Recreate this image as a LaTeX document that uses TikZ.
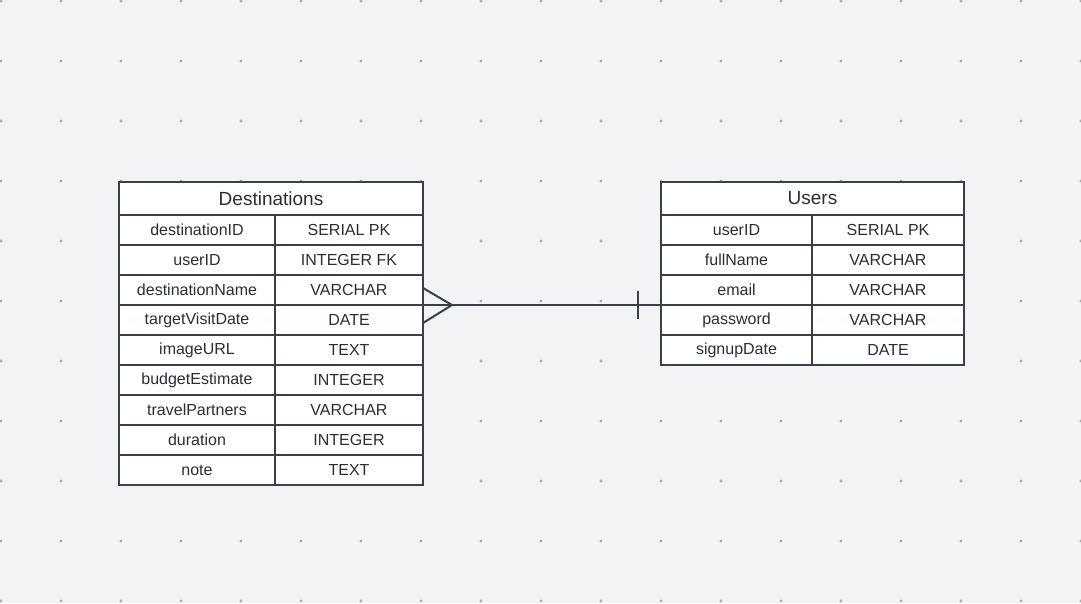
\documentclass[tikz,border=0pt]{standalone}
\usepackage{fontspec}
\setmainfont{Liberation Sans}
\usetikzlibrary{calc}

\definecolor{bg}{HTML}{F2F3F5}
\definecolor{griddot}{HTML}{ABACB0}
\definecolor{edge}{HTML}{3B4048}
\definecolor{ink}{HTML}{2A2E35}

\tikzset{
  tablehead/.style={draw=edge, line width=2pt, fill=white, inner sep=0pt, outer sep=0pt,
    anchor=north west, minimum height=33pt, text=ink, font=\fontsize{19}{22}\selectfont},
  cell/.style={draw=edge, line width=2pt, fill=white, inner sep=0pt, outer sep=0pt,
    anchor=north west, minimum height=30pt, text=ink, font=\fontsize{16}{19}\selectfont},
  rel/.style={draw=edge, line width=2pt}
}

\begin{document}
\begin{tikzpicture}[x=1pt, y=-1pt]

\useasboundingbox (0,0) rectangle (1081,603);
\fill[bg] (0,0) rectangle (1081,603);
\foreach \a in {0,...,18} {\foreach \b in {0,...,10} {\fill[griddot] (1+60*\a,1+60*\b) circle (1.6);}}

% Destinations
\node[tablehead, minimum width=304pt] (dst) at (119,182) {Destinations};
\foreach \f/\t [count=\i] in {destinationID/SERIAL PK, userID/INTEGER FK, destinationName/VARCHAR,
    targetVisitDate/DATE, imageURL/TEXT, budgetEstimate/INTEGER, travelPartners/VARCHAR,
    duration/INTEGER, note/TEXT} {
  \node[cell, minimum width=156pt] (dst-\i a) at ($(dst.south west)+(0,{30*(\i-1)})$) {\f};
  \node[cell, minimum width=148pt] (dst-\i b) at (dst-\i a.north east) {\t};
}

% Users
\node[tablehead, minimum width=303pt] (usr) at (661,182) {Users};
\foreach \f/\t [count=\i] in {userID/SERIAL PK, fullName/VARCHAR, email/VARCHAR,
    password/VARCHAR, signupDate/DATE} {
  \node[cell, minimum width=151pt] (usr-\i a) at ($(usr.south west)+(0,{30*(\i-1)})$) {\f};
  \node[cell, minimum width=152pt] (usr-\i b) at (usr-\i a.north east) {\t};
}

% many destinations -- one user
\coordinate (many) at (dst-3b.south east);
\coordinate (one) at (usr-3a.south west);
\draw[rel] (many) -- (one);
\draw[rel] ($(many)+(0,-17)$) -- ($(many)+(29,0)$) -- ($(many)+(0,18)$);
\draw[rel] ($(one)+(-23,-14)$) -- ($(one)+(-23,14)$);

\end{tikzpicture}
\end{document}
